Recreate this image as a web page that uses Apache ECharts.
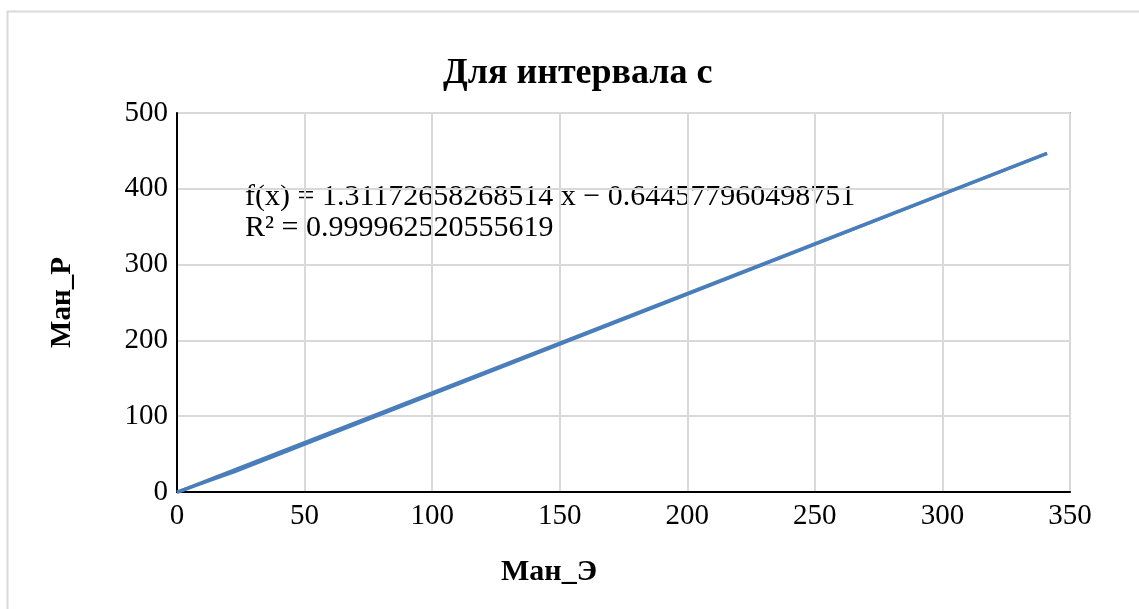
<!DOCTYPE html>
<html>
<head>
<meta charset="utf-8">
<script src="https://cdn.jsdelivr.net/npm/echarts@6/dist/echarts.min.js"></script>
<style>
  html, body { margin: 0; padding: 0; background: #fff; }
  #chart { width: 1139px; height: 609px; }
</style>
</head>
<body>
<div id="chart"></div>
<script>
const manE = [0, 22.3, 341];
const manP = [0, 26.4, 446.6];
const slope = 1.31172658268514;
const intercept = -0.644577960498751;
const eqText = "f(x) = 1.31172658268514 x − 0.644577960498751";
const r2Text = "R² = 0.999962520555619";
const xTicks = [0, 50, 100, 150, 200, 250, 300, 350];
const yTicks = [0, 100, 200, 300, 400, 500];

const points = manE.map((x, i) => [x, manP[i]]);
const xMin = Math.min(...manE);
const xMax = Math.max(...manE);
const trend = [
  [xMin, slope * xMin + intercept],
  [xMax, slope * xMax + intercept],
];

const font = "'Liberation Serif', 'Times New Roman', serif";

const option = {
  backgroundColor: "#fff",
  title: {
    text: "Для интервала с",
    left: 438,
    top: 51,
    textStyle: {
      fontFamily: font,
      fontSize: 36,
      fontWeight: "bold",
      color: "#000",
    },
  },
  grid: {
    left: 177,
    right: 69,
    top: 113,
    bottom: 117,
    show: true,
    borderColor: "#a6a6a6",
    borderWidth: 2,
  },
  xAxis: {
    type: "value",
    min: xTicks[0],
    max: xTicks[xTicks.length - 1],
    interval: 50,
    name: "Ман_Э",
    nameLocation: "middle",
    nameGap: 65,
    nameTextStyle: {
      fontFamily: font,
      fontSize: 30,
      fontWeight: "bold",
      color: "#000",
      padding: [0, 149, 0, 0],
    },
    axisLine: { show: true, onZero: false, lineStyle: { color: "#000", width: 2 } },
    axisTick: { show: false },
    axisLabel: { fontFamily: font, fontSize: 29, color: "#000", margin: 10 },
    splitLine: { show: true, lineStyle: { color: "#d9d9d9", width: 2 } },
  },
  yAxis: {
    type: "value",
    min: yTicks[0],
    max: yTicks[yTicks.length - 1],
    interval: 100,
    name: "Ман_Р",
    nameLocation: "middle",
    nameGap: 100,
    nameRotate: 90,
    nameTextStyle: { fontFamily: font, fontSize: 29, fontWeight: "bold", color: "#000" },
    axisLine: { show: true, onZero: false, lineStyle: { color: "#000", width: 2 } },
    axisTick: { show: false },
    axisLabel: { fontFamily: font, fontSize: 29, color: "#000", margin: 9 },
    splitLine: { show: true, lineStyle: { color: "#d9d9d9", width: 2 } },
  },
  graphic: [
    {
      type: "rect",
      left: 5,
      top: 9,
      shape: { width: 1200, height: 700 },
      style: { fill: "none", stroke: "#d9d9d9", lineWidth: 2 },
      z: -1,
    },
    {
      type: "text",
      left: 245,
      top: 182,
      style: {
        text: eqText + "\n" + r2Text,
        fontFamily: font,
        fontSize: 30,
        lineHeight: 31,
        fill: "#000",
      },
    },
  ],
  series: [
    {
      name: "Ман_Р",
      type: "line",
      data: points,
      showSymbol: false,
      lineStyle: { color: "#4a7ebb", width: 3 },
      z: 2,
    },
    {
      name: "trend",
      type: "line",
      data: trend,
      showSymbol: false,
      lineStyle: { color: "#4a7ebb", width: 3.5 },
      z: 3,
    },
  ],
};

const myChart = echarts.init(document.getElementById("chart"));
myChart.setOption(option);
</script>
</body>
</html>
